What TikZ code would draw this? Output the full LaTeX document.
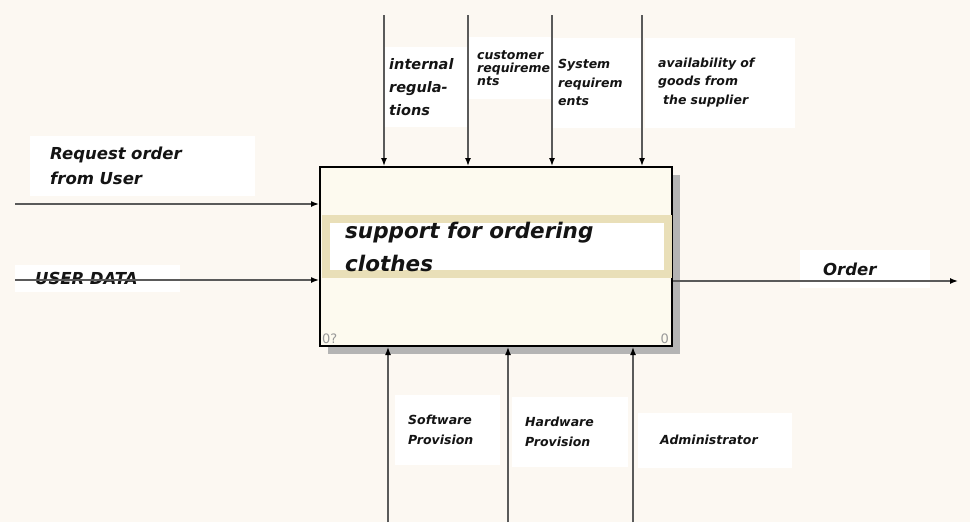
\documentclass[tikz,border=0pt]{standalone}
\usepackage{fontspec}
\setmainfont{DejaVu Sans}
\usetikzlibrary{arrows.meta,positioning,shadows}
\definecolor{bgcream}{HTML}{FCF8F2}
\definecolor{boxcream}{HTML}{FDFAEF}
\definecolor{bandtan}{HTML}{E9DFB8}
\definecolor{linegray}{HTML}{5A5A5A}
\definecolor{shadowgray}{HTML}{B4B4B4}
\definecolor{inkblack}{HTML}{141414}
\tikzset{
  flow/.style={draw=linegray, line width=1.4pt, -{Latex[length=8pt,width=6pt,color=black]}},
  tag/.style={fill=white, anchor=west, align=left, inner ysep=0pt, text=inkblack},
  bigtag/.style={tag, font=\fontsize{16.5}{25}\selectfont\bfseries\itshape},
  midtag/.style={tag, font=\fontsize{12.5}{18.5}\selectfont\bfseries\itshape},
  smalltag/.style={tag, font=\fontsize{12.5}{13}\selectfont\bfseries\itshape},
}
\begin{document}
\begin{tikzpicture}[x=1pt,y=-1pt]
\fill[bgcream] (0,0) rectangle (970,522);

%Input labels
\node[bigtag, inner xsep=20pt, text width=185pt, minimum height=60pt] (req) at (30,165.5) {Request order\\from User};
\node[bigtag, inner xsep=20pt, text width=125pt, minimum height=27pt] (udata) at (15,278) {USER DATA};

%Output label
\node[bigtag, inner xsep=23pt, text width=84pt, minimum height=38pt] (order) at (800,269) {Order};

%Control labels
\node[tag, font=\fontsize{14.5}{23}\selectfont\bfseries\itshape, inner xsep=5pt, text width=74pt, minimum height=80pt] (intreg) at (384,87) {internal\\regula-\\tions};
\node[smalltag, inner xsep=9pt, text width=67pt, minimum height=62pt] (custreq) at (468,68) {customer\\requireme\\nts};
\node[midtag, inner xsep=5pt, text width=79pt, minimum height=90pt] (sysreq) at (553,82.5) {System\\requirem\\ents};
\node[midtag, inner xsep=13pt, text width=124pt, minimum height=90pt] (avail) at (645,82.5) {availability of\\goods from\\\hspace*{5pt}the supplier};

%Mechanism labels
\node[midtag, inner xsep=13pt, text width=79pt, minimum height=70pt, font=\fontsize{12.5}{20}\selectfont\bfseries\itshape] (soft) at (395,430) {Software\\Provision};
\node[midtag, inner xsep=13pt, text width=90pt, minimum height=70pt, font=\fontsize{12.5}{20}\selectfont\bfseries\itshape] (hard) at (512,431.5) {Hardware\\Provision};
\node[midtag, inner xsep=22pt, text width=110pt, minimum height=55pt] (admin) at (638,440) {Administrator};

%Function box
\node[fill=boxcream, draw=black, line width=2pt, minimum width=352pt, minimum height=179pt, inner sep=0pt,
      drop shadow={shadow xshift=8pt, shadow yshift=-8pt, fill=shadowgray, opacity=1}] (func) at (496,256.5) {};
\node[draw=bandtan, line width=8pt, fill=white, minimum width=342pt, minimum height=55pt, inner sep=0pt] (band) at (497,246.5) {};
\node[anchor=west, align=left, inner sep=0pt, text=inkblack, font=\fontsize{21.5}{33}\selectfont\bfseries\itshape] (title) at (345,246.5) {support for ordering\\clothes};
\node[anchor=south west, inner sep=0pt, text=gray!80, font=\fontsize{13}{13}\selectfont] (nodeno) at ([shift={(3,-3)}]func.south west) {0?};
\node[anchor=south east, inner sep=0pt, text=gray!80, font=\fontsize{13}{13}\selectfont] (diagno) at ([shift={(-4,-3)}]func.south east) {0};

%Controls
\foreach \cx [count=\i] in {384,468,552,642} {
  \coordinate (ctl\i) at (\cx,15);
  \draw[flow] (ctl\i) -- (ctl\i |- func.north);
}

%Inputs
\coordinate (in1) at (15,204);
\coordinate (in2) at (15,280);
\draw[flow] (in1) -- (in1 -| func.west);
\draw[flow] (in2) -- (in2 -| func.west);

%Output
\coordinate (out1) at (958,281);
\draw[flow] (out1 -| func.east) -- (out1);

%Mechanisms
\foreach \mx [count=\i] in {388,508,633} {
  \coordinate (mech\i) at (\mx,522);
  \draw[flow] (mech\i) -- (mech\i |- func.south);
}
\end{tikzpicture}
\end{document}
